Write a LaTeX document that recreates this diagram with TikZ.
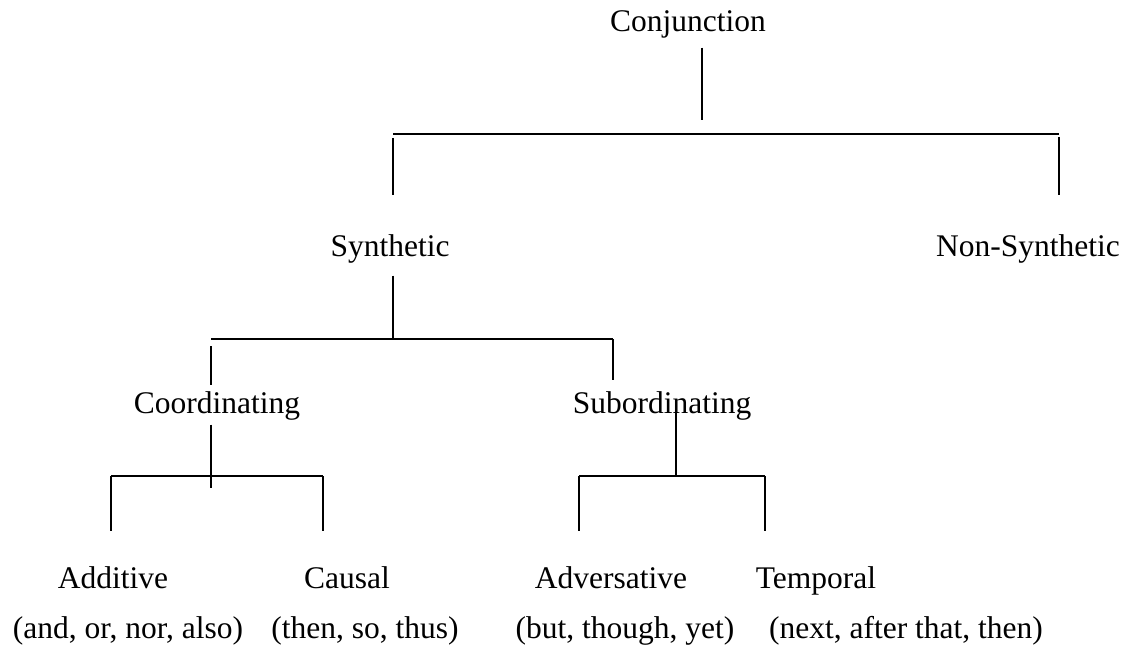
\documentclass[tikz,border=0pt]{standalone}
\usepackage{fontspec}
\setmainfont{Liberation Serif}
\begin{document}
\begin{tikzpicture}[x=1pt,y=-1pt,line width=1.6pt,
    etiqueta/.style={anchor=base,inner sep=0pt,font=\fontsize{31.5}{36}\selectfont}]

  \useasboundingbox (0,0) rectangle (1132,647);

  % Dibujar los nodos
  \node[etiqueta] (conj) at (688,32) {Conjunction};
  \node[etiqueta] (syn) at (390,256) {Synthetic};
  \node[etiqueta] (nonsyn) at (1028,256) {Non-Synthetic};
  \node[etiqueta] (coord) at (217,413) {Coordinating};
  \node[etiqueta] (sub) at (662,413) {Subordinating};
  \node[etiqueta] (add) at (113,588) {Additive};
  \node[etiqueta] (caus) at (347,588) {Causal};
  \node[etiqueta] (adv) at (611,588) {Adversative};
  \node[etiqueta] (temp) at (816,588) {Temporal};
  \node[etiqueta] (addex) at (128,638) {(and, or, nor, also)};
  \node[etiqueta] (causex) at (365,638) {(then, so, thus)};
  \node[etiqueta] (advex) at (625,638) {(but, though, yet)};
  \node[etiqueta] (tempex) at (906,638) {(next, after that, then)};

  % Puntos de las barras
  \coordinate (s1) at (702,134); % union bajo Conjunction
  \coordinate (b1w) at (393,134); \coordinate (b1e) at (1059,134);
  \coordinate (s2) at (393,339); % union bajo Synthetic
  \coordinate (b2w) at (211,339); \coordinate (b2e) at (613,339);
  \coordinate (s3) at (211,476); % union bajo Coordinating
  \coordinate (b3w) at (111,476); \coordinate (b3e) at (323,476);
  \coordinate (s4) at (676,476); % union bajo Subordinating
  \coordinate (b4w) at (579,476); \coordinate (b4e) at (765,476);

  % Barras horizontales
  \foreach \b in {b1,b2,b3,b4} {
    \draw (\b w) -- (\b e);
  }

  % Troncos
  \draw ([yshift=-8pt]s1 |- conj.south) -- ([yshift=14pt]s1);
  \draw ([yshift=-12pt]s2 |- syn.south) -- (s2);
  \draw ([yshift=-4pt]s3 |- coord.south) -- ([yshift=-12pt]s3);
  \draw ([yshift=8pt]s4 |- sub.base) -- (s4);

  % Ramas hacia los hijos
  \draw ([yshift=-4pt]b1w) -- ([yshift=38pt]b1w |- syn.north);
  \draw ([yshift=-3pt]b1e) -- ([yshift=38pt]b1e |- nonsyn.north);
  \draw ([yshift=-7pt]b2w) -- ([yshift=5pt]b2w |- coord.north);
  \draw (b2e) -- ([yshift=10pt]b2e |- sub.north);
  \foreach \b/\n in {b3w/add,b3e/caus,b4w/adv,b4e/temp} {
    \draw (\b) -- ([yshift=34pt]\b |- \n.north);
  }

\end{tikzpicture}
\end{document}
